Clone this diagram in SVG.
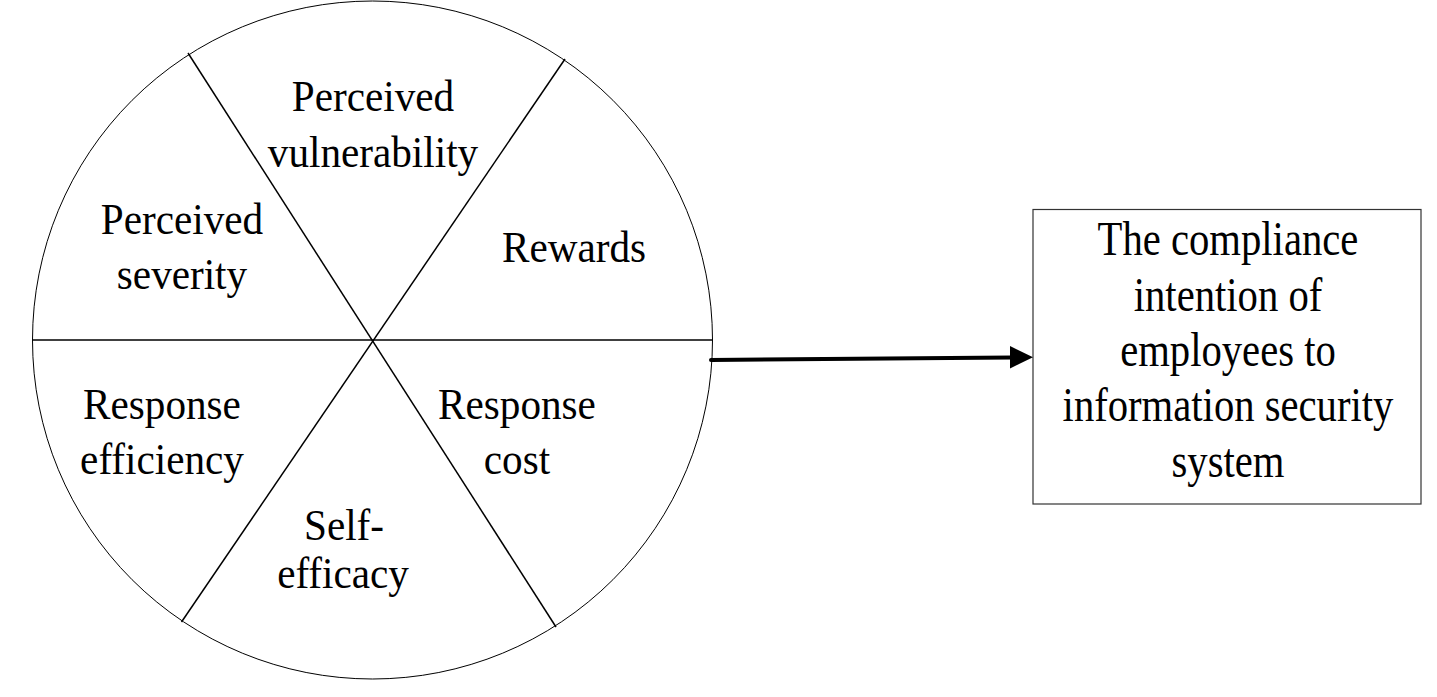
<svg xmlns="http://www.w3.org/2000/svg" width="1437" height="697" viewBox="0 0 1437 697">
<style>
text{font-family:"Liberation Serif","Times New Roman",serif;fill:#000;text-anchor:middle}
.c{font-size:45px}
.b{font-size:49px}
.div{stroke:#000;stroke-width:1.5;fill:none}
</style>
<rect width="1437" height="697" fill="#fff"/>
<g id="circle">
<ellipse cx="372.5" cy="340" rx="340" ry="339" fill="#fff" stroke="#000" stroke-width="1"/>
<line class="div" x1="32.5" y1="340" x2="712" y2="340"/>
<line class="div" x1="188" y1="53" x2="556" y2="627"/>
<line class="div" x1="565" y1="59" x2="181.5" y2="622"/>
</g>
<g id="perceived-vulnerability"><text class="c" transform="translate(373 111) scale(0.915 1)">Perceived</text><text class="c" transform="translate(373 167) scale(0.915 1)">vulnerability</text></g>
<g id="perceived-severity"><text class="c" transform="translate(182 234) scale(0.915 1)">Perceived</text><text class="c" transform="translate(182 289) scale(0.915 1)">severity</text></g>
<g id="rewards"><text class="c" transform="translate(574 262) scale(0.915 1)">Rewards</text></g>
<g id="response-efficiency"><text class="c" transform="translate(162 419) scale(0.915 1)">Response</text><text class="c" transform="translate(162 474) scale(0.915 1)">efficiency</text></g>
<g id="response-cost"><text class="c" transform="translate(517 419) scale(0.915 1)">Response</text><text class="c" transform="translate(517 474) scale(0.915 1)">cost</text></g>
<g id="self-efficacy"><text class="c" transform="translate(344 540) scale(0.915 1)">Self-</text><text class="c" transform="translate(343 588) scale(0.915 1)">efficacy</text></g>
<g id="compliance">
<rect x="1033" y="209.5" width="388" height="294.5" fill="#fff" stroke="#333" stroke-width="1.2"/>
<text class="b" transform="translate(1228 254.5) scale(0.83 1)">The compliance</text>
<text class="b" transform="translate(1228 310.5) scale(0.83 1)">intention of</text>
<text class="b" transform="translate(1228 366) scale(0.83 1)">employees to</text>
<text class="b" transform="translate(1228 421) scale(0.83 1)">information security</text>
<text class="b" transform="translate(1228 477) scale(0.83 1)">system</text>
</g>
<g id="connectors">
<line x1="711" y1="360" x2="1012" y2="357.5" stroke="#000" stroke-width="4" stroke-linecap="round"/>
<polygon points="1010,346 1033,357.3 1010,368.5" fill="#000"/>
</g>
</svg>
